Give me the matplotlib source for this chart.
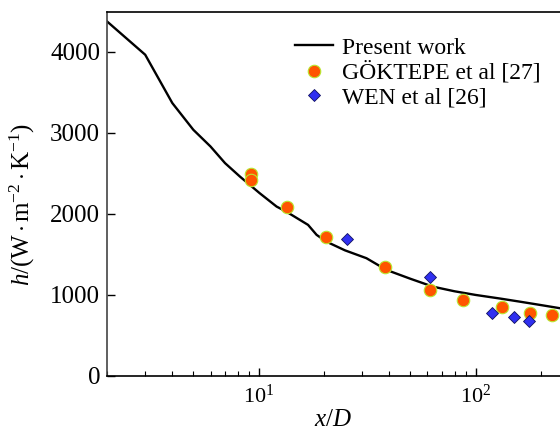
import matplotlib
matplotlib.use("Agg")
import matplotlib.pyplot as plt
from matplotlib.ticker import LogLocator, NullFormatter, FixedLocator

plt.rcParams['font.family'] = ['Liberation Serif', 'DejaVu Serif']
plt.rcParams['mathtext.fontset'] = 'custom'
plt.rcParams['mathtext.rm'] = 'Liberation Serif'
plt.rcParams['mathtext.it'] = 'Liberation Serif:italic'

# Present work curve
curve_x = [2.0, 3.0, 4.0, 5.0, 6.0, 7.0, 8.2, 10.1, 12.1, 13.4, 16.9, 18.5, 20.5, 25.0, 31.4, 38.8, 50.0, 63.6, 80.0, 100.0, 130.0, 160.0, 200.0, 245.0]
curve_h = [4374, 3963, 3367, 3037, 2831, 2626, 2460, 2256, 2090, 2028, 1864, 1741, 1658, 1550, 1453, 1309, 1200, 1102, 1045, 1000, 955, 917, 875, 836]

# GÖKTEPE et al [27]
gok_x = [9.26, 9.26, 13.5, 20.4, 38.4, 61.4, 87.5, 132.7, 177.5, 224.8]
gok_h = [2494, 2420, 2083, 1720, 1342, 1062, 938, 856, 782, 753]

# WEN et al [26]
wen_x = [25.5, 61.4, 118.6, 150.0, 176.2]
wen_h = [1695, 1226, 782, 725, 679]

fig = plt.figure(figsize=(5.6, 4.32), dpi=100)
ax = fig.add_axes([107/560, 1-376/432, 1-107/560, (376-12)/432])

ax.plot(curve_x, curve_h, color='black', lw=1.7, label='Present work', zorder=2)
ax.plot(gok_x, gok_h, linestyle='none', marker='o', ms=9.0, mfc='#FF5500',
        mec='#B8E830', mew=0.8, label='GÖKTEPE et al [27]', zorder=3)
ax.plot(wen_x, wen_h, linestyle='none', marker='D', ms=6.5, mfc='#3030F0',
        mec='#101060', mew=0.6, label='WEN et al [26]', zorder=3)

ax.set_xscale('log')
ax.set_xlim(2.0, 245)
ax.set_ylim(0, 4490)
ax.yaxis.set_major_locator(FixedLocator([0, 1000, 2000, 3000, 4000]))
ax.xaxis.set_major_locator(LogLocator(base=10))
ax.xaxis.set_minor_locator(LogLocator(base=10, subs=range(2, 10)))
ax.xaxis.set_minor_formatter(NullFormatter())

ax.tick_params(axis='both', which='major', direction='in', length=6, width=1,
               top=False, right=False)
ax.tick_params(axis='y', labelsize=18, pad=5)
ax.tick_params(axis='x', labelsize=16, pad=6)
ax.tick_params(axis='x', which='minor', direction='in', length=3.5, width=0.8, top=False)

ax.spines['right'].set_visible(False)
for s in ['left', 'bottom', 'top']:
    ax.spines[s].set_linewidth(1.2)
ax.spines['left'].set_color('#444444')

ax.set_xlabel(r'$x/D$', fontsize=18, labelpad=1)
ax.set_ylabel(r'$h/(\mathrm{W\,{\cdot}\,m^{-2}\,{\cdot}\,K^{-1}})$', fontsize=18)
ax.yaxis.set_label_coords(-0.155, 0.47)

leg = ax.legend(loc='upper left', bbox_to_anchor=(295/560, 1-37/432),
                bbox_transform=fig.transFigure, frameon=False,
                fontsize=17, handlelength=1.6, handletextpad=0.38, labelspacing=0.12,
                borderaxespad=0, borderpad=0)

fig.savefig('out.png', dpi=100)
